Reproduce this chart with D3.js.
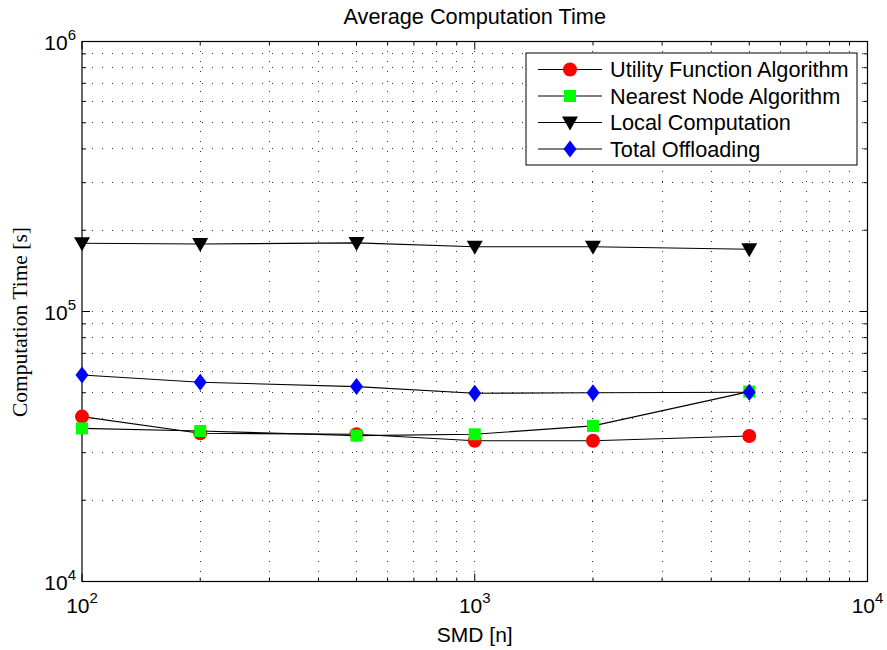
<!DOCTYPE html>
<html>
<head>
<meta charset="utf-8">
<script src="https://cdn.jsdelivr.net/npm/d3@7"></script>
<style>
  html, body { margin: 0; padding: 0; background: #fff; }
  svg { display: block; }
  text { font-family: "Liberation Sans", Arial, Helvetica, sans-serif; fill: #000; }
</style>
</head>
<body>
<svg id="chart" width="887" height="650"></svg>
<script>
// Number of SMDs simulated
const smdCounts = [100, 200, 500, 1000, 2000, 5000];

// Average computation time [s] per strategy
const utilityFunction = [40800, 35400, 35100, 33200, 33200, 34600];
const nearestNode     = [36900, 36100, 34700, 35100, 37700, 50500];
const localComputation = [178900, 177800, 179500, 173800, 173800, 170000];
const totalOffloading = [58200, 54700, 52700, 49800, 50000, 50200];

const seriesNames = ["Utility Function Algorithm", "Nearest Node Algorithm", "Local Computation", "Total Offloading"];
const xTickExps = [2, 3, 4];
const yTickExps = [4, 5, 6];

const titleText = "Average Computation Time";
const xLabelText = "SMD [n]";
const yLabelText = "Computation Time [s]";

const series = [
  { name: seriesNames[0], values: utilityFunction,  marker: "circle",   fill: "#ff0000" },
  { name: seriesNames[1], values: nearestNode,      marker: "square",   fill: "#00ff00" },
  { name: seriesNames[2], values: localComputation, marker: "triangle", fill: "#000000" },
  { name: seriesNames[3], values: totalOffloading,  marker: "diamond",  fill: "#0000ff" }
];

const svg = d3.select("#chart");
const L = 82, R = 867.5, T = 41.5, B = 581.5;
const FS = 21.7;

const x = d3.scaleLog().domain([1e2, 1e4]).range([L, R]);
const y = d3.scaleLog().domain([1e4, 1e6]).range([B, T]);

// minor (2..9) positions within each decade
function minorValues(lo, hi) {
  const out = [];
  for (let e = lo; e < hi; e++) {
    for (let k = 2; k <= 9; k++) out.push(k * Math.pow(10, e));
  }
  return out;
}
const xMinor = minorValues(2, 4);
const yMinor = minorValues(4, 6);
const xMajor = xTickExps.map(e => Math.pow(10, e));
const yMajor = yTickExps.map(e => Math.pow(10, e));

// dotted grid
const grid = svg.append("g").attr("stroke", "#333").attr("stroke-width", 1)
  .attr("stroke-dasharray", "1,9").attr("shape-rendering", "crispEdges");
xMajor.concat(xMinor).filter(v => v > 1e2 && v < 1e4).forEach(v => {
  grid.append("line").attr("x1", x(v)).attr("x2", x(v)).attr("y1", B).attr("y2", T);
});
yMajor.concat(yMinor).filter(v => v > 1e4 && v < 1e6).forEach(v => {
  grid.append("line").attr("x1", L).attr("x2", R).attr("y1", y(v)).attr("y2", y(v));
});

// box
svg.append("rect").attr("x", L).attr("y", T).attr("width", R - L).attr("height", B - T)
  .attr("fill", "none").attr("stroke", "#000").attr("stroke-width", 1.2);

// inward ticks on all four sides
const ticks = svg.append("g").attr("stroke", "#000").attr("stroke-width", 1);
const majLen = 8, minLen = 4;
xMajor.forEach(v => {
  ticks.append("line").attr("x1", x(v)).attr("x2", x(v)).attr("y1", B).attr("y2", B - majLen);
  ticks.append("line").attr("x1", x(v)).attr("x2", x(v)).attr("y1", T).attr("y2", T + majLen);
});
xMinor.forEach(v => {
  ticks.append("line").attr("x1", x(v)).attr("x2", x(v)).attr("y1", B).attr("y2", B - minLen);
  ticks.append("line").attr("x1", x(v)).attr("x2", x(v)).attr("y1", T).attr("y2", T + minLen);
});
yMajor.forEach(v => {
  ticks.append("line").attr("x1", L).attr("x2", L + majLen).attr("y1", y(v)).attr("y2", y(v));
  ticks.append("line").attr("x1", R).attr("x2", R - majLen).attr("y1", y(v)).attr("y2", y(v));
});
yMinor.forEach(v => {
  ticks.append("line").attr("x1", L).attr("x2", L + minLen).attr("y1", y(v)).attr("y2", y(v));
  ticks.append("line").attr("x1", R).attr("x2", R - minLen).attr("y1", y(v)).attr("y2", y(v));
});

// power-of-ten tick labels
function powLabel(g, e, anchor) {
  const t = g.append("text").attr("text-anchor", anchor).attr("font-size", 21);
  t.append("tspan").text("10");
  t.append("tspan").attr("font-size", 15).attr("dy", -10).text(String(e));
  return t;
}
xTickExps.forEach(e => {
  const g = svg.append("g").attr("transform", `translate(${x(Math.pow(10, e))},${B + 31})`);
  powLabel(g, e, "middle");
});
yTickExps.forEach(e => {
  const g = svg.append("g").attr("transform", `translate(${L - 6},${y(Math.pow(10, e)) + 8})`);
  powLabel(g, e, "end");
});

// title and axis labels
svg.append("text").attr("x", (L + R) / 2).attr("y", 24).attr("text-anchor", "middle")
  .attr("font-size", FS).text(titleText);
svg.append("text").attr("x", (L + R) / 2).attr("y", 642).attr("text-anchor", "middle")
  .attr("font-size", 21).text(xLabelText);
svg.append("text")
  .attr("transform", `translate(27,${322}) rotate(-90)`)
  .attr("text-anchor", "middle")
  .style("font-family", "'Liberation Serif', 'DejaVu Serif', serif")
  .attr("font-size", 21.5).text(yLabelText);

// marker shapes
function drawMarker(g, type, cx, cy, fill) {
  if (type === "circle") {
    g.append("circle").attr("cx", cx).attr("cy", cy).attr("r", 7).attr("fill", fill);
  } else if (type === "square") {
    g.append("rect").attr("x", cx - 6).attr("y", cy - 6).attr("width", 12).attr("height", 12).attr("fill", fill);
  } else if (type === "triangle") {
    g.append("path").attr("d", `M${cx - 8},${cy - 6}L${cx + 8},${cy - 6}L${cx},${cy + 8}Z`).attr("fill", fill);
  } else if (type === "diamond") {
    g.append("path").attr("d", `M${cx},${cy - 8.5}L${cx + 6.5},${cy}L${cx},${cy + 8.5}L${cx - 6.5},${cy}Z`).attr("fill", fill);
  }
}

const line = d3.line().x(d => x(d[0])).y(d => y(d[1]));
series.forEach(s => {
  const g = svg.append("g");
  const pts = smdCounts.map((n, i) => [n, s.values[i]]);
  g.append("path").datum(pts).attr("d", line).attr("fill", "none")
    .attr("stroke", "#000").attr("stroke-width", 1.1);
  pts.forEach(p => drawMarker(g, s.marker, x(p[0]), y(p[1]), s.fill));
});

// legend
const lg = svg.append("g");
lg.append("rect").attr("x", 526).attr("y", 53).attr("width", 331).attr("height", 112)
  .attr("fill", "#fff").attr("stroke", "#000").attr("stroke-width", 1);
series.forEach((s, i) => {
  const cy = 69.5 + i * 26.5;
  lg.append("line").attr("x1", 538).attr("x2", 602).attr("y1", cy).attr("y2", cy)
    .attr("stroke", "#000").attr("stroke-width", 1.1);
  drawMarker(lg, s.marker, 570, cy, s.fill);
  lg.append("text").attr("x", 610).attr("y", cy + 7.5).attr("font-size", FS).text(s.name);
});
</script>
</body>
</html>
